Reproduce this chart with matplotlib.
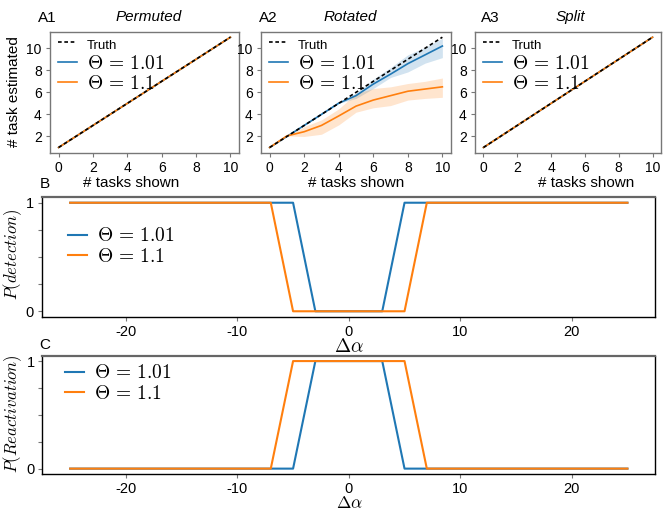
import matplotlib
matplotlib.use("Agg")
import matplotlib.pyplot as plt

plt.rcParams['font.family'] = ['Liberation Sans', 'DejaVu Sans']
plt.rcParams['mathtext.fontset'] = 'cm'

# ---------------- data ----------------
tasks_shown = [0, 1, 2, 3, 4, 5, 6, 7, 8, 9, 10]
truth = [1, 2, 3, 4, 5, 6, 7, 8, 9, 10, 11]

# A1 Permuted / A3 Split: estimates equal the truth
perm_theta101 = [1, 2, 3, 4, 5, 6, 7, 8, 9, 10, 11]
perm_theta11 = [1, 2, 3, 4, 5, 6, 7, 8, 9, 10, 11]
split_theta101 = [1, 2, 3, 4, 5, 6, 7, 8, 9, 10, 11]
split_theta11 = [1, 2, 3, 4, 5, 6, 7, 8, 9, 10, 11]

# A2 Rotated
rot_theta101 = [1, 2, 3, 4, 5.02, 5.7, 6.75, 7.65, 8.6, 9.4, 10.2]
rot_theta101_lo = [1, 2, 3, 4, 5.0, 5.45, 6.35, 7.35, 7.85, 8.65, 9.15]
rot_theta101_hi = [1, 2, 3, 4, 5.05, 5.95, 7.2, 8.25, 9.4, 10.1, 10.9]
rot_theta11 = [1, 2.05, 2.43, 3.0, 3.86, 4.75, 5.3, 5.7, 6.1, 6.3, 6.5]
rot_theta11_lo = [1, 2.05, 2.0, 2.2, 3.05, 4.2, 4.6, 4.8, 5.3, 5.45, 5.55]
rot_theta11_hi = [1, 2.05, 2.9, 3.5, 4.5, 5.9, 6.35, 6.5, 6.8, 7.0, 7.3]

# B / C
delta_alpha = [-25, -23, -21, -19, -17, -15, -13, -11, -9, -7, -5, -3, -1,
               1, 3, 5, 7, 9, 11, 13, 15, 17, 19, 21, 23, 25]
detect_theta101 = [1, 1, 1, 1, 1, 1, 1, 1, 1, 1, 1, 0, 0,
                   0, 0, 1, 1, 1, 1, 1, 1, 1, 1, 1, 1, 1]
detect_theta11 = [1, 1, 1, 1, 1, 1, 1, 1, 1, 1, 0, 0, 0,
                  0, 0, 0, 1, 1, 1, 1, 1, 1, 1, 1, 1, 1]
react_theta101 = [0, 0, 0, 0, 0, 0, 0, 0, 0, 0, 0, 1, 1,
                  1, 1, 0, 0, 0, 0, 0, 0, 0, 0, 0, 0, 0]
react_theta11 = [0, 0, 0, 0, 0, 0, 0, 0, 0, 0, 1, 1, 1,
                 1, 1, 1, 0, 0, 0, 0, 0, 0, 0, 0, 0, 0]

label_truth = "Truth"
label_101 = r"$\Theta\,=\,1.01$"
label_11 = r"$\Theta\,=\,1.1$"

BLUE = '#1f77b4'
ORANGE = '#ff7f0e'
W, H = 664, 512
fig = plt.figure(figsize=(W / 100, H / 100), dpi=100)


def ax_px(l, t, r, b):
    return fig.add_axes([l / W, 1 - b / H, (r - l) / W, (b - t) / H])


def style_A(ax):
    for s in ax.spines.values():
        s.set_color('#777777')
        s.set_linewidth(1.0)
    ax.tick_params(labelsize=10, length=3, color='#777777', pad=3)
    ax.set_xticks([0, 2, 4, 6, 8, 10])
    ax.set_yticks([2, 4, 6, 8, 10])


def legend_A(ax):
    leg = ax.legend(loc='upper left', bbox_to_anchor=(0.02, 1.0), frameon=False,
                    prop={'size': 14}, handlelength=1.0, handletextpad=0.5,
                    labelspacing=0.12, borderaxespad=0.0, borderpad=0.2)
    t = leg.get_texts()[0]
    t.set_fontsize(9.5)
    t.set_family(['Liberation Sans', 'DejaVu Sans'])
    return leg


def panel_A(l, r, y101, y11, lo101=None, hi101=None, lo11=None, hi11=None):
    ax = ax_px(l, 31.7, r, 153)
    if lo101 is not None:
        ax.fill_between(tasks_shown, lo101, hi101, color=BLUE, alpha=0.2, lw=0)
        ax.fill_between(tasks_shown, lo11, hi11, color=ORANGE, alpha=0.2, lw=0)
    ax.plot(tasks_shown, truth, '--', color='black', lw=1.2, zorder=5,
            dashes=(2.2, 1.6), label=label_truth)
    ax.plot(tasks_shown, y101, color=BLUE, lw=1.2, label=label_101)
    ax.plot(tasks_shown, y11, color=ORANGE, lw=1.2, label=label_11)
    style_A(ax)
    legend_A(ax)
    ax.set_ylim(0.5, 11.5)
    ax.set_xlim(-0.5, 10.5)
    return ax


a1 = panel_A(50, 239, perm_theta101, perm_theta11)
a2 = panel_A(261, 451, rot_theta101, rot_theta11,
             rot_theta101_lo, rot_theta101_hi, rot_theta11_lo, rot_theta11_hi)
a3 = panel_A(475, 661, split_theta101, split_theta11)


def ftext(x, y, s, **kw):
    fig.text(x / W, 1 - y / H, s, **kw)

ftext(38, 18, "A1", fontsize=11, ha='left', va='center')
ftext(259, 18, "A2", fontsize=11, ha='left', va='center')
ftext(481, 18, "A3", fontsize=11, ha='left', va='center')
ftext(149, 17, "Permuted", fontsize=11, style='italic', ha='center', va='center')
ftext(350, 17, "Rotated", fontsize=11, style='italic', ha='center', va='center')
ftext(570, 17, "Split", fontsize=11, style='italic', ha='center', va='center')
ftext(131, 183, "# tasks shown", fontsize=11, ha='center', va='center')
ftext(356, 183, "# tasks shown", fontsize=11, ha='center', va='center')
ftext(586, 183, "# tasks shown", fontsize=11, ha='center', va='center')
ftext(14, 92, "# task estimated", fontsize=11, rotation=90, ha='center', va='center')


def style_BC(ax, pad=3):
    for s in ax.spines.values():
        s.set_color('black')
        s.set_linewidth(1.0)
    ax.spines['top'].set_color('#666666')
    ax.spines['top'].set_linewidth(1.6)
    ax.set_xticks([-20, -10, 0, 10, 20])
    ax.set_xticklabels(['-20', '-10', '0', '10', '20'])
    ax.set_yticks([0, 0.25, 0.5, 0.75, 1])
    ax.set_yticklabels(['0', '', '', '', '1'])
    ax.set_ylim(-0.05, 1.05)
    ax.set_xlim(-27.5, 27.5)
    ax.tick_params(labelsize=10.5, length=3, color='#777777', pad=pad)


axB = ax_px(42.3, 197.3, 655.3, 316.7)
axB.plot(delta_alpha, detect_theta101, color=BLUE, lw=1.5, label=label_101)
axB.plot(delta_alpha, detect_theta11, color=ORANGE, lw=1.5, label=label_11)
style_BC(axB)
axB.legend(loc='upper left', bbox_to_anchor=(0.035, 0.78), frameon=False,
           prop={'size': 14}, handlelength=1.0, handletextpad=0.5,
           labelspacing=0.12, borderaxespad=0.0, borderpad=0.2)

axC = ax_px(42.3, 355.7, 655.3, 474)
axC.plot(delta_alpha, react_theta101, color=BLUE, lw=1.5, label=label_101)
axC.plot(delta_alpha, react_theta11, color=ORANGE, lw=1.5, label=label_11)
style_BC(axC, pad=2.5)
axC.legend(loc='upper left', bbox_to_anchor=(0.03, 0.96), frameon=False,
           prop={'size': 14}, handlelength=1.0, handletextpad=0.5,
           labelspacing=0.12, borderaxespad=0.0, borderpad=0.2)

ftext(40, 184, "B", fontsize=11, ha='left', va='center')
ftext(39, 345, "C", fontsize=11, ha='left', va='center')
ftext(349, 347, r"$\Delta\alpha$", fontsize=14, ha='center', va='center')
ftext(349, 511.5, r"$\Delta\alpha$", fontsize=12.5, ha='center', va='bottom')
ftext(13, 254, r"$P(detection)$", fontsize=12, rotation=90, ha='center', va='center')
ftext(13, 414, r"$P(Reactivation)$", fontsize=12, rotation=90, ha='center', va='center')

fig.savefig("out.png", dpi=100)
